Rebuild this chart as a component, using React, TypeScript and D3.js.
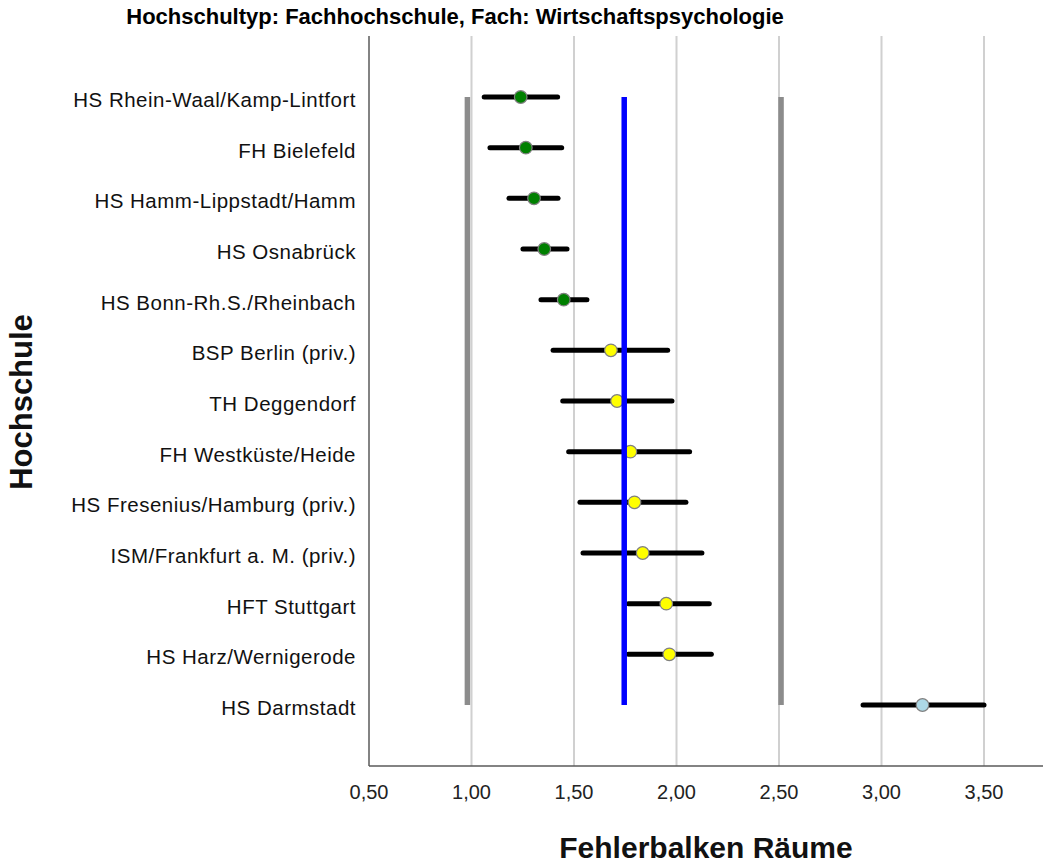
import React from "react";
import * as d3 from "d3";

const schools = [
  "HS Rhein-Waal/Kamp-Lintfort",
  "FH Bielefeld",
  "HS Hamm-Lippstadt/Hamm",
  "HS Osnabrück",
  "HS Bonn-Rh.S./Rheinbach",
  "BSP Berlin (priv.)",
  "TH Deggendorf",
  "FH Westküste/Heide",
  "HS Fresenius/Hamburg (priv.)",
  "ISM/Frankfurt a. M. (priv.)",
  "HFT Stuttgart",
  "HS Harz/Wernigerode",
  "HS Darmstadt",
];
const means = [1.24, 1.265, 1.305, 1.355, 1.45, 1.68, 1.71, 1.775, 1.795, 1.835, 1.95, 1.965, 3.2];
const lower = [1.062, 1.09, 1.183, 1.251, 1.339, 1.398, 1.445, 1.474, 1.529, 1.544, 1.765, 1.765, 2.91];
const upper = [1.42, 1.44, 1.422, 1.466, 1.563, 1.957, 1.978, 2.064, 2.046, 2.124, 2.16, 2.17, 3.5];
const groups = ["low", "low", "low", "low", "low", "mid", "mid", "mid", "mid", "mid", "mid", "mid", "high"];
const refLines = { lower: 0.98, mean: 1.745, upper: 2.51 };
const xTicks = [0.5, 1.0, 1.5, 2.0, 2.5, 3.0, 3.5];

const groupColor: Record<string, string> = { low: "#008000", mid: "#ffff00", high: "#add8e6" };

export default function App() {
  const W = 1045, H = 865;
  const left = 369, right = 1043, top = 36, bottom = 766;
  const x = d3.scaleLinear().domain([0.5, 0.5 + (right - left) / 205]).range([left, right]);
  const y = d3.scalePoint<string>().domain(schools).range([97, 705]);
  const fmt = (v: number) => d3.format(".2f")(v).replace(".", ",");
  const y0 = y(schools[0])!, y1 = y(schools[schools.length - 1])!;

  return (
    <svg width={W} height={H} style={{ position: "absolute", left: 0, top: 0, background: "#fff" }}
      fontFamily="'Liberation Sans', Arial, sans-serif">
      <text x={455} y={24} textAnchor="middle" fontSize={22} fontWeight="bold">
        Hochschultyp: Fachhochschule, Fach: Wirtschaftspsychologie
      </text>
      {xTicks.filter((t) => t > 0.5).map((t) => (
        <line key={t} x1={x(t)} x2={x(t)} y1={top} y2={bottom} stroke="#d0d0d0" strokeWidth={2} />
      ))}
      <line x1={left} x2={left} y1={top} y2={bottom} stroke="#5a5a5a" strokeWidth={1.5} />
      <line x1={left} x2={right} y1={bottom} y2={bottom} stroke="#5a5a5a" strokeWidth={1.5} />
      {xTicks.map((t) => (
        <text key={t} x={x(t)} y={799} textAnchor="middle" fontSize={20} fill="#222">{fmt(t)}</text>
      ))}
      <line x1={x(refLines.lower)} x2={x(refLines.lower)} y1={y0} y2={y1} stroke="#8c8c8c" strokeWidth={5.5} />
      <line x1={x(refLines.upper)} x2={x(refLines.upper)} y1={y0} y2={y1} stroke="#8c8c8c" strokeWidth={5.5} />
      {schools.map((s, i) => (
        <g key={s}>
          <text x={356} y={y(s)! + 10} textAnchor="end" fontSize={20.5} letterSpacing={0.5} fill="#111">{s}</text>
          <line x1={x(lower[i])} x2={x(upper[i])} y1={y(s)!} y2={y(s)!} stroke="#000" strokeWidth={5} strokeLinecap="round" />
          <circle cx={x(means[i])} cy={y(s)!} r={6.3} fill={groupColor[groups[i]]} stroke="#808080" strokeWidth={1.2} />
        </g>
      ))}
      <line x1={x(refLines.mean)} x2={x(refLines.mean)} y1={y0} y2={y1} stroke="#0000ff" strokeWidth={5.5} />
      <text transform={`translate(32,402) rotate(-90)`} textAnchor="middle" fontSize={31} fontWeight="bold" fill="#111">
        Hochschule
      </text>
      <text x={706} y={858} textAnchor="middle" fontSize={30} fontWeight="bold" fill="#111">
        Fehlerbalken Räume
      </text>
    </svg>
  );
}
